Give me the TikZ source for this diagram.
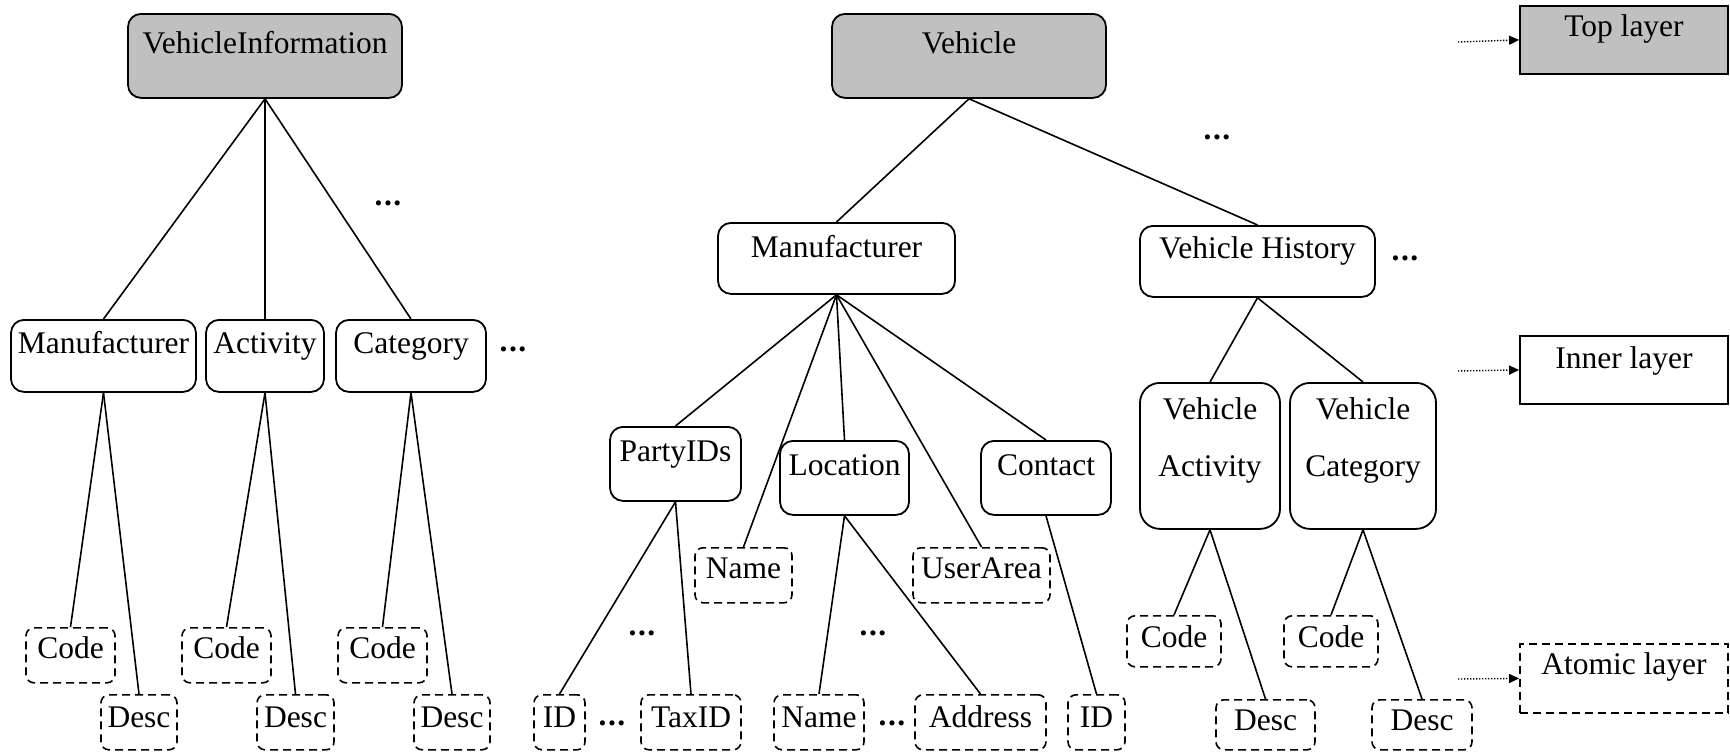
\documentclass[tikz,border=0pt]{standalone}
\usepackage{fontspec}
\setmainfont{Liberation Serif}
\usetikzlibrary{arrows.meta}
\definecolor{layergray}{RGB}{192,192,192}

\tikzset{
  every node/.style={font=\fontsize{31.5}{57}\selectfont, inner xsep=0pt, inner ysep=0pt, anchor=north},
  elem/.style={draw, line width=1.8pt, rounded corners=13pt},
  topelem/.style={elem, fill=layergray},
  tallelem/.style={elem, rounded corners=20pt},
  atom/.style={draw, line width=1.6pt, dash pattern=on 8pt off 5pt, rounded corners=8pt},
  layerbox/.style={draw, line width=1.8pt},
  toplayer/.style={layerbox, fill=layergray},
  atomlayer/.style={layerbox, dash pattern=on 8pt off 5pt},
  link/.style={line width=1.6pt},
  more/.style={anchor=base},
  pointer/.style={line width=1.4pt, dash pattern=on 1.4pt off 1.6pt, -{Triangle[length=10pt,width=9pt]}},
}

% box: name, style, centre x, top, width, baseline offset, depth below baseline, text
\newcommand{\treebox}[8]{%
  \node[#2, minimum width=#5pt, text height=#6pt, text depth=#7pt] (#1) at (#3,#4) {#8};}
% three heavy dots for omitted siblings
\newcommand{\omitted}{\textbf{.\kern1.5pt.\kern1.5pt.}}

\begin{document}
\begin{tikzpicture}[x=1pt, y=-1pt]
\useasboundingbox (0,0) rectangle (1730,753);

% ---- top layer elements
\treebox{vinfo}{topelem}{265}{13}{274}{40}{44}{VehicleInformation}
\treebox{veh}{topelem}{969}{13}{274}{40}{44}{Vehicle}

% ---- VehicleInformation subtree
\treebox{mfa}{elem}{103.5}{319}{185}{34}{38}{Manufacturer}
\treebox{act}{elem}{265}{319}{118}{34}{38}{Activity}
\treebox{cat}{elem}{411}{319}{150}{34}{38}{Category}
\treebox{codeA}{atom}{70.5}{627}{89}{31}{24}{Code}
\treebox{descA}{atom}{139}{694}{76}{33}{22}{Desc}
\treebox{codeB}{atom}{226.5}{627}{89}{31}{24}{Code}
\treebox{descB}{atom}{295.5}{694}{77}{33}{22}{Desc}
\treebox{codeC}{atom}{382.5}{627}{89}{31}{24}{Code}
\treebox{descC}{atom}{452}{694}{76}{33}{22}{Desc}

% ---- Vehicle subtree: manufacturer branch
\treebox{mfb}{elem}{836.5}{222}{237}{35}{36}{Manufacturer}
\treebox{pid}{elem}{675.5}{426}{131}{35}{39}{PartyIDs}
\treebox{loc}{elem}{844.5}{440}{129}{35}{39}{Location}
\treebox{con}{elem}{1046}{440}{130}{35}{39}{Contact}
\treebox{nameA}{atom}{743.5}{547}{97}{31}{24}{Name}
\treebox{uarea}{atom}{981.5}{547}{137}{31}{24}{UserArea}
\treebox{idA}{atom}{559.5}{694}{51}{33}{22}{ID}
\treebox{tax}{atom}{691}{694}{100}{33}{22}{TaxID}
\treebox{nameB}{atom}{819}{694}{90}{33}{22}{Name}
\treebox{addr}{atom}{980.5}{694}{131}{33}{22}{Address}
\treebox{idB}{atom}{1096.5}{694}{57}{33}{22}{ID}

% ---- Vehicle subtree: history branch
\treebox{vh}{elem}{1257.5}{225}{235}{33}{38}{Vehicle History}
\treebox{va}{tallelem}{1210}{382}{140}{37}{109}{\begin{tabular}[t]{@{}c@{}}Vehicle\\Activity\end{tabular}}
\treebox{vc}{tallelem}{1363}{382}{146}{37}{109}{\begin{tabular}[t]{@{}c@{}}Vehicle\\Category\end{tabular}}
\treebox{codeD}{atom}{1174}{615}{94}{32}{19}{Code}
\treebox{descD}{atom}{1265.5}{699}{99}{31}{19}{Desc}
\treebox{codeE}{atom}{1331}{615}{94}{32}{19}{Code}
\treebox{descE}{atom}{1422}{699}{100}{31}{19}{Desc}

% ---- legend
\treebox{toplay}{toplayer}{1624}{5}{208}{31}{37}{Top layer}
\treebox{innlay}{layerbox}{1624}{335}{208}{33}{35}{Inner layer}
\treebox{atomlay}{atomlayer}{1624}{643}{208}{31}{38}{Atomic layer}
\coordinate (ptop) at (1458,42);
\coordinate (pinn) at (1458,371);
\coordinate (patom) at (1458,679);
\draw[pointer] (ptop) -- (toplay.west);
\draw[pointer] (pinn) -- (innlay.west);
\draw[pointer] (patom) -- (atomlay.west);

% ---- omitted siblings
\node[more] (e1) at (388,205) {\omitted};
\node[more] (e2) at (513,351) {\omitted};
\node[more] (e3) at (612,725) {\omitted};
\node[more] (e4) at (892,725) {\omitted};
\node[more] (e5) at (642,635) {\omitted};
\node[more] (e6) at (873,635) {\omitted};
\node[more] (e7) at (1217,139) {\omitted};
\node[more] (e8) at (1405,260) {\omitted};

% ---- connectors
\foreach \p/\c in {vinfo/mfa, vinfo/act, vinfo/cat,
                   mfa/codeA, mfa/descA, act/codeB, act/descB, cat/codeC, cat/descC,
                   veh/mfb, veh/vh,
                   mfb/pid, mfb/nameA, mfb/loc, mfb/uarea, mfb/con,
                   pid/idA, pid/tax, loc/nameB, loc/addr, con/idB,
                   vh/va, vh/vc, va/codeD, va/descD, vc/codeE, vc/descE}
  \draw[link] (\p.south) -- (\c.north);
\end{tikzpicture}
\end{document}
